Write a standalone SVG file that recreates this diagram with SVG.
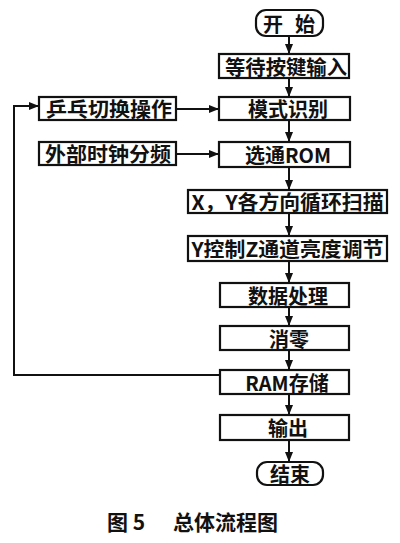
<svg xmlns="http://www.w3.org/2000/svg" width="400" height="543" viewBox="0 0 400 543">
<defs>
<marker id="ah" markerUnits="userSpaceOnUse" markerWidth="10" markerHeight="10" refX="10" refY="5" orient="auto">
<path d="M0,1 L10,5 L0,9 Z" fill="#111"/>
</marker>
<style>
.b{fill:#fff;stroke:#111;stroke-width:2.2}
.t{font-family:"Noto Sans CJK SC","Liberation Serif",serif;font-weight:bold;font-size:20px;fill:#111;text-anchor:middle;dominant-baseline:central}
.c{fill:none;stroke:#111;stroke-width:2;marker-end:url(#ah)}
.cap{font-family:"Noto Sans CJK SC","Liberation Sans",sans-serif;font-weight:bold;font-size:21px;fill:#111}
</style>
</defs>
<rect width="400" height="543" fill="#fff"/>
<g id="connectors">
<path class="c" d="M289 36 V54"/>
<path class="c" d="M289 78 V97"/>
<path class="c" d="M289 120 V142"/>
<path class="c" d="M289 167 V190"/>
<path class="c" d="M289 213 V236"/>
<path class="c" d="M289 261 V283"/>
<path class="c" d="M289 307 V326"/>
<path class="c" d="M289 350 V370"/>
<path class="c" d="M289 394 V415"/>
<path class="c" d="M289 440 V462"/>
<path class="c" d="M176 109 H219"/>
<path class="c" d="M176 154 H219"/>
<path class="c" d="M220 375 H14 V106 H39"/>
</g>
<g id="start"><rect class="b" x="256" y="10" width="67" height="26" rx="10"/><text class="t" x="273" y="23">开</text><text class="t" x="305" y="23">始</text></g>
<g id="wait"><rect class="b" x="219" y="54" width="130" height="24"/><text class="t" x="286" y="66" textLength="122" lengthAdjust="spacingAndGlyphs">等待按键输入</text></g>
<g id="mode"><rect class="b" x="219" y="97" width="131" height="23"/><text class="t" x="288" y="108.5">模式识别</text></g>
<g id="pingpong"><rect class="b" x="39" y="97" width="137" height="23"/><text class="t" x="109" y="108.5" textLength="126" lengthAdjust="spacingAndGlyphs">乒乓切换操作</text></g>
<g id="rom"><rect class="b" x="219" y="142" width="131" height="25"/><text class="t" x="288" y="154.5">选通ROM</text></g>
<g id="clock"><rect class="b" x="39" y="142" width="137" height="23"/><text class="t" x="108" y="153.5" textLength="126" lengthAdjust="spacingAndGlyphs">外部时钟分频</text></g>
<g id="scan"><rect class="b" x="188" y="190" width="199" height="23"/><text class="t" x="287.5" y="201.5" textLength="192" lengthAdjust="spacingAndGlyphs">X，Y各方向循环扫描</text></g>
<g id="bright"><rect class="b" x="188" y="236" width="199" height="25"/><text class="t" x="287.5" y="248.5" textLength="192" lengthAdjust="spacingAndGlyphs">Y控制Z通道亮度调节</text></g>
<g id="data"><rect class="b" x="220" y="283" width="129" height="24"/><text class="t" x="288" y="295">数据处理</text></g>
<g id="zero"><rect class="b" x="220" y="326" width="129" height="24"/><text class="t" x="289" y="338">消零</text></g>
<g id="ram"><rect class="b" x="220" y="370" width="129" height="24"/><text class="t" x="287" y="382">RAM存储</text></g>
<g id="out"><rect class="b" x="220" y="415" width="129" height="25"/><text class="t" x="288" y="427.5">输出</text></g>
<g id="end"><rect class="b" x="257" y="462" width="66" height="23" rx="10"/><text class="t" x="290" y="473.5">结束</text></g>
<text class="cap" x="107" y="530">图 5</text>
<text class="cap" x="173" y="530">总体流程图</text>
</svg>
